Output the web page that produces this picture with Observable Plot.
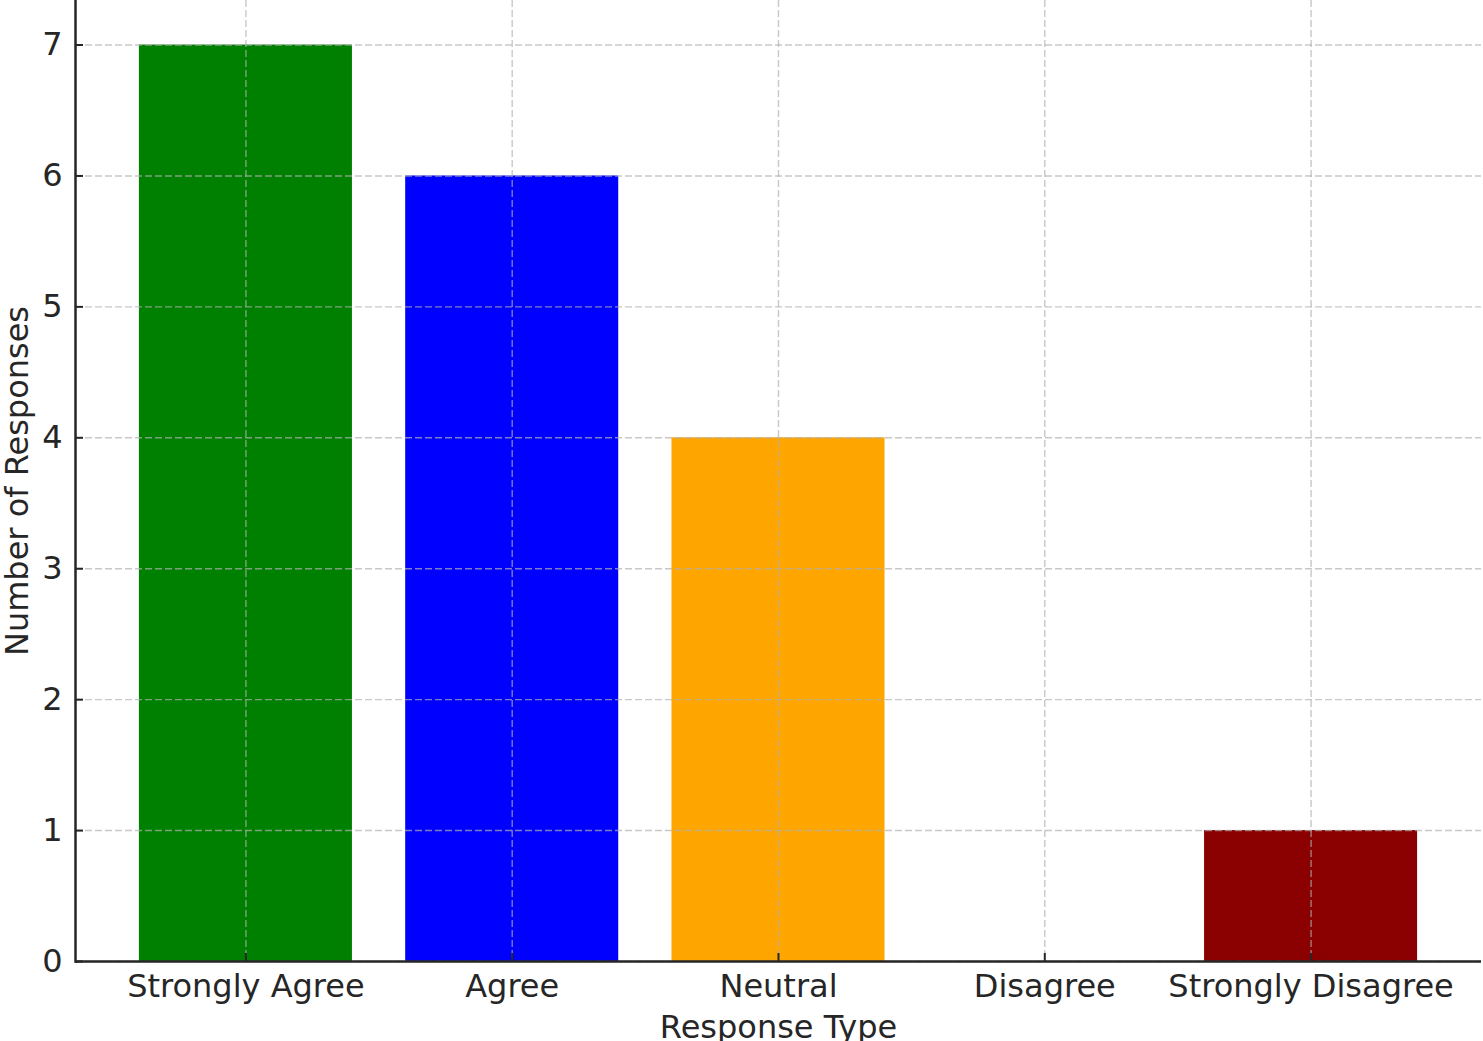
<!DOCTYPE html>
<html>
<head>
<meta charset="utf-8">
<script src="https://cdn.jsdelivr.net/npm/d3@7"></script>
<script src="https://cdn.jsdelivr.net/npm/@observablehq/plot@0.6"></script>
<style>
  html, body { margin: 0; padding: 0; background: #ffffff; }
  #chart svg { display: block; }
</style>
</head>
<body>
<div id="chart"></div>
<script>
const categories = ["Strongly Agree", "Agree", "Neutral", "Disagree", "Strongly Disagree"];
const counts = [7, 6, 4, 0, 1];
const barColors = ["#008000", "#0000ff", "#ffa500", "#ff0000", "#8b0000"];
const yTicks = [0, 1, 2, 3, 4, 5, 6, 7];
const xLabel = "Response Type";
const yLabel = "Number of Responses";

const data = categories.map((c, i) => ({category: c, count: counts[i]}));

const ink = "#262626";
const fs = 32;
const gridStyle = {stroke: "#b0b0b0", strokeOpacity: 0.7, strokeWidth: 1.4, strokeDasharray: "7,3"};

const chart = Plot.plot({
  width: 1483,
  height: 1041,
  marginLeft: 75,
  marginRight: 2,
  marginTop: 0,
  marginBottom: 80,
  style: {fontFamily: "'DejaVu Sans', sans-serif", background: "#ffffff", color: ink},
  x: {type: "band", domain: categories, paddingInner: 0.2, paddingOuter: 0.24, align: 0.5, round: false},
  y: {domain: [0, 7.34]},
  color: {domain: categories, range: barColors},
  marks: [
    Plot.barY(data, {x: "category", y: "count", fill: "category"}),
    Plot.gridY(yTicks, gridStyle),
    Plot.gridX(categories, gridStyle),
    Plot.ruleY([0], {stroke: ink, strokeWidth: 2.5}),
    Plot.frame({anchor: "left", stroke: ink, strokeWidth: 2.5}),
    Plot.axisY(yTicks, {anchor: "left", tickSize: -8, tickPadding: 21, tickFormat: d3.format("d"), fontSize: fs, stroke: ink, strokeWidth: 2, fill: ink, label: null}),
    Plot.axisX(categories, {anchor: "bottom", tickSize: -8, tickPadding: 21, fontSize: fs, stroke: ink, strokeWidth: 2, fill: ink, label: null}),
    Plot.text([xLabel], {text: d => d, frameAnchor: "bottom", textAnchor: "middle", dy: 66, fontSize: fs, fill: ink, lineAnchor: "middle"}),
    Plot.text([yLabel], {text: d => d, frameAnchor: "left", textAnchor: "middle", dx: -58, rotate: -90, fontSize: fs, fill: ink, lineAnchor: "middle"})
  ]
});
document.getElementById("chart").appendChild(chart);
</script>
</body>
</html>
